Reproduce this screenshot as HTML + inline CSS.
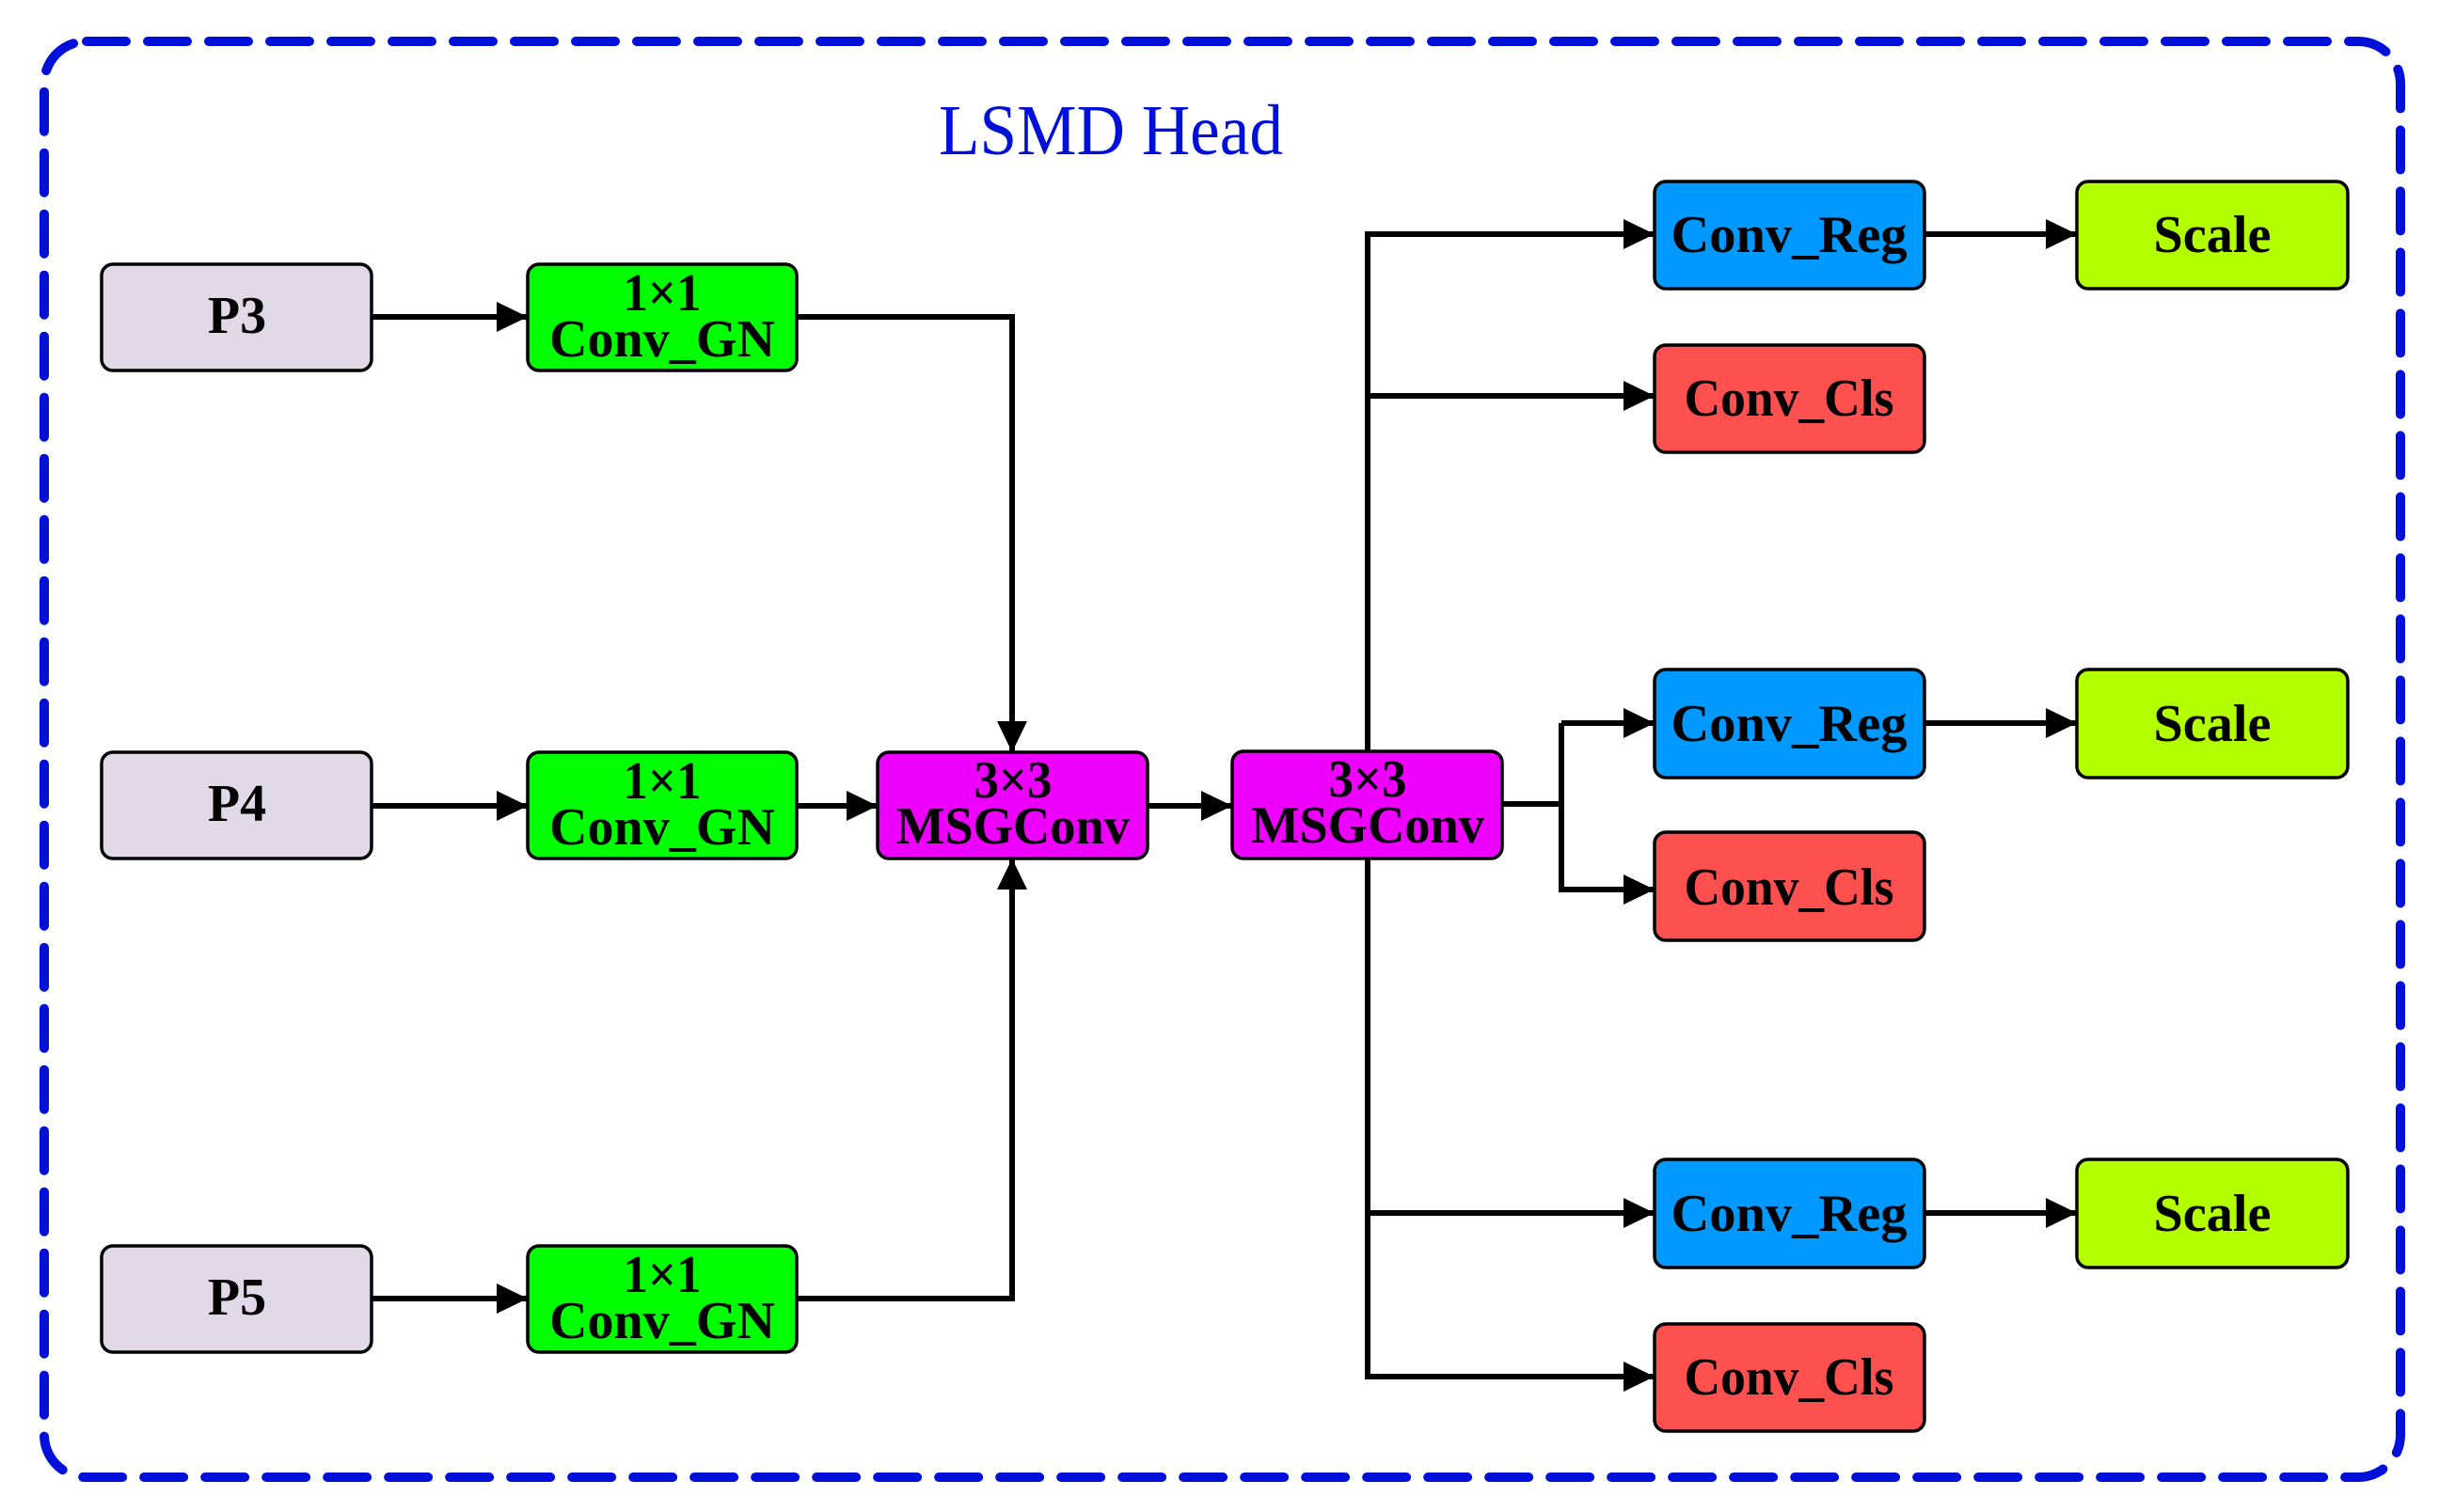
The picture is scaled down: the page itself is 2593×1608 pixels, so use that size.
<!DOCTYPE html>
<html><head><meta charset="utf-8"><style>
html,body{margin:0;padding:0;background:#fff;width:2593px;height:1608px;overflow:hidden}
svg{display:block}
text{font-family:"Liberation Serif",serif;font-weight:bold;fill:#000}
</style></head><body>
<svg width="2593" height="1608" viewBox="0 0 2593 1608" xmlns="http://www.w3.org/2000/svg">
<defs>
<marker id="a" markerWidth="33" markerHeight="32" refX="33" refY="16" orient="auto" markerUnits="userSpaceOnUse">
<path d="M0,0 L33,16 L0,32 Z" fill="#000"/>
</marker>
</defs>
<rect x="47" y="44" width="2505" height="1527" rx="45" ry="45" fill="none" stroke="#0010d8" stroke-width="10" stroke-dasharray="42 23" stroke-linecap="round"/>
<text x="998" y="164" font-size="76" style="font-weight:normal;fill:#0010d8" textLength="366" lengthAdjust="spacingAndGlyphs">LSMD Head</text>

<g stroke="#000" stroke-width="6" fill="none">
<line x1="395" y1="337" x2="561" y2="337" marker-end="url(#a)"/>
<polyline points="847,337 1076,337 1076,800" marker-end="url(#a)"/>
<line x1="395" y1="857" x2="561" y2="857" marker-end="url(#a)"/>
<line x1="847" y1="857" x2="933" y2="857" marker-end="url(#a)"/>
<line x1="1220" y1="857" x2="1310" y2="857" marker-end="url(#a)"/>
<line x1="395" y1="1381" x2="561" y2="1381" marker-end="url(#a)"/>
<polyline points="847,1381 1076,1381 1076,913" marker-end="url(#a)"/>
<polyline points="1454,798 1454,249 1759,249" marker-end="url(#a)"/>
<line x1="1454" y1="421" x2="1759" y2="421" marker-end="url(#a)"/>
<line x1="1597" y1="855" x2="1660" y2="855"/>
<polyline points="1660,769 1660,946 1759,946" marker-end="url(#a)"/>
<line x1="1660" y1="769" x2="1759" y2="769" marker-end="url(#a)"/>
<polyline points="1454,913 1454,1464 1759,1464" marker-end="url(#a)"/>
<line x1="1454" y1="1290" x2="1759" y2="1290" marker-end="url(#a)"/>
<line x1="2046" y1="249" x2="2208" y2="249" marker-end="url(#a)"/>
<line x1="2046" y1="769" x2="2208" y2="769" marker-end="url(#a)"/>
<line x1="2046" y1="1290" x2="2208" y2="1290" marker-end="url(#a)"/>
</g>

<g stroke="#000" stroke-width="3.5">
<rect x="108" y="281" width="287" height="113" rx="12" fill="#e2d9e8"/>
<rect x="108" y="800" width="287" height="113" rx="12" fill="#e2d9e8"/>
<rect x="108" y="1325" width="287" height="113" rx="12" fill="#e2d9e8"/>
<rect x="561" y="281" width="286" height="113" rx="12" fill="#00ff00"/>
<rect x="561" y="800" width="286" height="113" rx="12" fill="#00ff00"/>
<rect x="561" y="1325" width="286" height="113" rx="12" fill="#00ff00"/>
<rect x="933" y="800" width="287" height="113" rx="12" fill="#ee00ff"/>
<rect x="1310" y="799" width="287" height="114" rx="12" fill="#ee00ff"/>
<rect x="1759" y="193" width="287" height="114" rx="12" fill="#0099ff"/>
<rect x="1759" y="367" width="287" height="114" rx="12" fill="#ff5050"/>
<rect x="1759" y="712" width="287" height="115" rx="12" fill="#0099ff"/>
<rect x="1759" y="885" width="287" height="115" rx="12" fill="#ff5050"/>
<rect x="1759" y="1233" width="287" height="115" rx="12" fill="#0099ff"/>
<rect x="1759" y="1408" width="287" height="114" rx="12" fill="#ff5050"/>
<rect x="2208" y="193" width="288" height="114" rx="12" fill="#b3ff00"/>
<rect x="2208" y="712" width="288" height="115" rx="12" fill="#b3ff00"/>
<rect x="2208" y="1233" width="288" height="115" rx="12" fill="#b3ff00"/>
</g>

<g font-size="56" text-anchor="middle">
<text x="252" y="354">P3</text>
<text x="252" y="873">P4</text>
<text x="252" y="1398">P5</text>
<text x="704" y="330" textLength="83" lengthAdjust="spacingAndGlyphs">1×1</text>
<text x="704" y="379" textLength="240" lengthAdjust="spacingAndGlyphs">Conv_GN</text>
<text x="704" y="849" textLength="83" lengthAdjust="spacingAndGlyphs">1×1</text>
<text x="704" y="898" textLength="240" lengthAdjust="spacingAndGlyphs">Conv_GN</text>
<text x="704" y="1374" textLength="83" lengthAdjust="spacingAndGlyphs">1×1</text>
<text x="704" y="1423" textLength="240" lengthAdjust="spacingAndGlyphs">Conv_GN</text>
<text x="1077" y="848" textLength="83" lengthAdjust="spacingAndGlyphs">3×3</text>
<text x="1077" y="897" textLength="248" lengthAdjust="spacingAndGlyphs">MSGConv</text>
<text x="1454" y="847" textLength="83" lengthAdjust="spacingAndGlyphs">3×3</text>
<text x="1454" y="896" textLength="248" lengthAdjust="spacingAndGlyphs">MSGConv</text>
<text x="1902" y="268" textLength="251" lengthAdjust="spacingAndGlyphs">Conv_Reg</text>
<text x="1902" y="442" textLength="223" lengthAdjust="spacingAndGlyphs">Conv_Cls</text>
<text x="1902" y="788" textLength="251" lengthAdjust="spacingAndGlyphs">Conv_Reg</text>
<text x="1902" y="962" textLength="223" lengthAdjust="spacingAndGlyphs">Conv_Cls</text>
<text x="1902" y="1309" textLength="251" lengthAdjust="spacingAndGlyphs">Conv_Reg</text>
<text x="1902" y="1483" textLength="223" lengthAdjust="spacingAndGlyphs">Conv_Cls</text>
<text x="2352" y="268" textLength="125" lengthAdjust="spacingAndGlyphs">Scale</text>
<text x="2352" y="788" textLength="125" lengthAdjust="spacingAndGlyphs">Scale</text>
<text x="2352" y="1309" textLength="125" lengthAdjust="spacingAndGlyphs">Scale</text>
</g>
</svg>
</body></html>
